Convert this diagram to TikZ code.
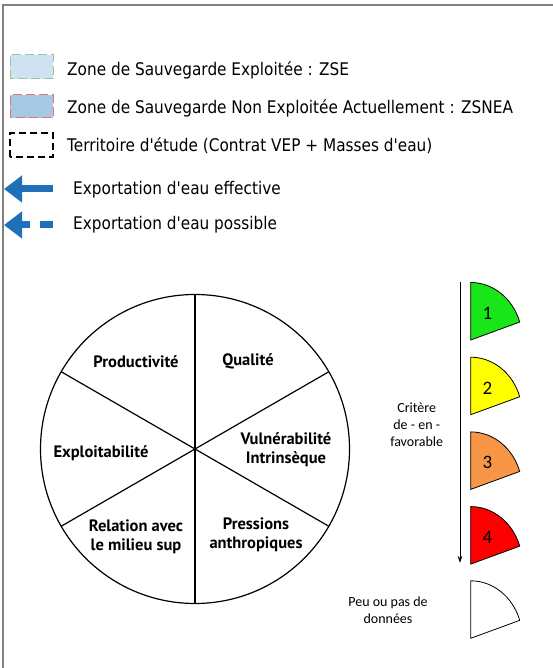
\documentclass[tikz,border=0pt]{standalone}
\usepackage{fontspec}
\usepackage{xcolor}
\usetikzlibrary{arrows.meta}
\setmainfont{Carlito}
\newfontfamily\legfont[FakeStretch=0.88]{DejaVu Sans}
\newfontfamily\piefont{PT Sans}
\definecolor{zsefill}{RGB}{207,226,241}
\definecolor{zseline}{RGB}{150,200,150}
\definecolor{zsneafill}{RGB}{165,200,229}
\definecolor{zsnealine}{RGB}{232,112,122}
\definecolor{exportblue}{RGB}{31,112,184}
\definecolor{frame}{RGB}{128,128,128}
\definecolor{critA}{RGB}{25,230,25}
\definecolor{critB}{RGB}{255,255,0}
\definecolor{critC}{RGB}{247,150,70}
\definecolor{critD}{RGB}{255,0,0}

\begin{document}
\begin{tikzpicture}[x=1pt,y=1pt,
		legtext/.style={anchor=base west,inner sep=0pt,font=\legfont\fontsize{17.4}{20}\selectfont},
		pietext/.style={align=center,inner sep=0pt,font=\piefont\bfseries\fontsize{16.5}{19}\selectfont},
		crittext/.style={align=center,inner sep=0pt,font=\fontsize{14}{17}\selectfont},
		wedge/.style={draw,line width=0.8pt},
		swatch/.style={line width=1pt,dash pattern=on 9pt off 4pt},
		exportarrow/.style={exportblue,line width=7pt,-{Triangle[length=18pt,width=26pt]}}
	]
	\useasboundingbox (0,0) rectangle (553,668);
	\draw[frame,line width=2pt] (2.5,0) -- (2.5,662.5) -- (553,662.5);

	\draw[swatch,zseline,fill=zsefill] (10,589) rectangle (53,613);
	\draw[swatch,zsnealine,fill=zsneafill] (10,550) rectangle (53,573);
	\draw[line width=1.6pt,dash pattern=on 7pt off 4pt] (10,511) rectangle (53,535);
	\draw[exportarrow] (53,479) -- (4,479);
	\draw[exportarrow] (30,443) -- (4,443);
	\fill[exportblue] (40,439.5) rectangle (53,446.5);

	\node[legtext] (zse) at (67,592) {Zone de Sauvegarde Exploitée : ZSE};
	\node[legtext] (zsnea) at (67,554.7) {Zone de Sauvegarde Non Exploitée Actuellement : ZSNEA};
	\node[legtext] (territoire) at (67,516.3) {Territoire d'étude (Contrat VEP + Masses d'eau)};
	\node[legtext] (effective) at (73,473.5) {Exportation d'eau effective};
	\node[legtext] (possible) at (73,438) {Exportation d'eau possible};

	\coordinate (pie) at (195,219);
	\draw[line width=1.2pt] (pie) circle (154.5);
	\draw[line width=1.6pt] (pie) ++(90:154.5) -- ++(0,-309);
	\draw[line width=1.2pt] (pie) ++(30:154.5) -- ++(210:309);
	\draw[line width=1.2pt] (pie) ++(150:154.5) -- ++(330:309);

	\node[pietext] (productivite) at (136,306.3) {Productivité};
	\node[pietext] (qualite) at (248,306.3) {Qualité};
	\node[pietext] (vulnerabilite) at (286,218) {Vulnérabilité\\Intrinsèque};
	\node[pietext] (exploitabilite) at (101,215) {Exploitabilité};
	\node[pietext] (relation) at (136,131.5) {Relation avec\\le milieu sup};
	\node[pietext] (pressions) at (256,133.5) {Pressions\\anthropiques};

	\coordinate (critere top) at (460,386);
	\coordinate (critere bot) at (460,105);
	\draw[line width=0.9pt,-{Stealth[length=7pt,width=4.5pt]}] (critere top) -- (critere bot);
	\node[crittext] (critere) at (416.7,243) {Critère\\de - en -\\favorable};

	\foreach \col/\num [count=\i] in {critA/1,critB/2,critC/3,critD/4}{
		\draw[wedge,fill=\col] (470.7,402.7-74.7*\i) -- ++(0,57.5)
			arc[start angle=90,end angle=18.2,x radius=51.6,y radius=57.5] -- cycle;
		\node[font=\fontsize{19}{22}\selectfont] (rang\num) at (487.5,429.4-74.7*\i) {\num};
	}
	\draw[wedge,fill=white] (470.7,29.7) -- ++(0,57.5)
		arc[start angle=90,end angle=18.2,x radius=51.6,y radius=57.5] -- cycle;
	\node[crittext] (donnees) at (388,57.5) {Peu ou pas de\\données};
\end{tikzpicture}
\end{document}
